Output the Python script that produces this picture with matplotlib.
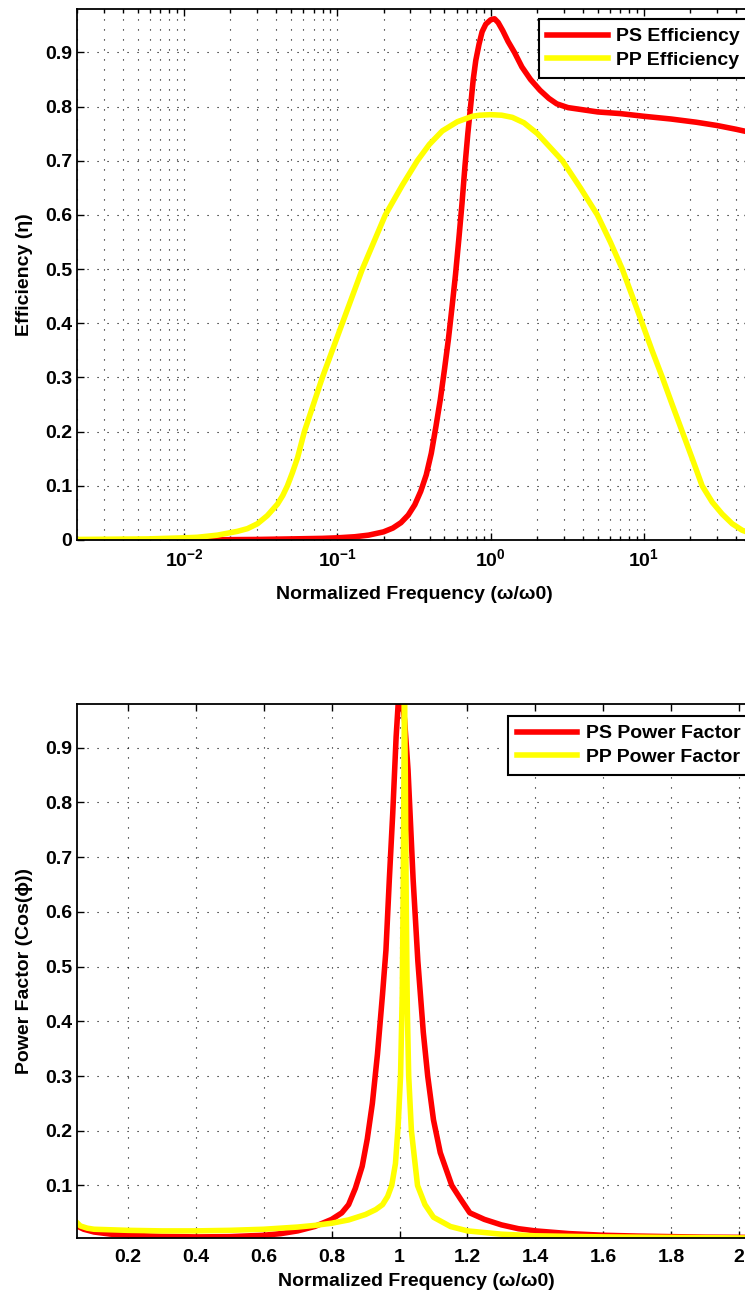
import numpy as np
import matplotlib.pyplot as plt

plt.rcParams['font.family'] = ['Liberation Sans', 'DejaVu Sans']
plt.rcParams['font.weight'] = 'bold'
plt.rcParams['mathtext.fontset'] = 'custom'
plt.rcParams['mathtext.rm'] = 'Liberation Sans:bold'
plt.rcParams['mathtext.bf'] = 'Liberation Sans:bold'
plt.rcParams['axes.unicode_minus'] = False

# efficiency vs normalized frequency (log axis)
eff_freq_ps = [0.002, 0.01, 0.03, 0.05, 0.08, 0.1, 0.13, 0.16, 0.2, 0.23, 0.26, 0.29,
               0.32, 0.35, 0.38, 0.41, 0.44, 0.47, 0.5, 0.53, 0.56, 0.59, 0.62, 0.65,
               0.68, 0.71, 0.74, 0.77, 0.8, 0.84, 0.88, 0.93, 1.0, 1.06, 1.12, 1.2,
               1.3, 1.43, 1.6, 1.82, 2.1, 2.4, 2.7, 3.2, 4.0, 5.0, 7.0, 10.0, 15.0,
               22.0, 30.0, 40.0, 50.0]
eff_ps = [0.0, 0.0, 0.001, 0.002, 0.003, 0.004, 0.006, 0.009, 0.015, 0.022, 0.032, 0.046,
          0.065, 0.09, 0.12, 0.16, 0.21, 0.26, 0.315, 0.37, 0.43, 0.49, 0.555, 0.62,
          0.69, 0.75, 0.80, 0.85, 0.885, 0.915, 0.938, 0.952, 0.96, 0.962, 0.955, 0.94,
          0.92, 0.90, 0.873, 0.85, 0.83, 0.815, 0.805, 0.798, 0.794, 0.79, 0.787, 0.782, 0.777,
          0.771, 0.765, 0.758, 0.752]

eff_freq_pp = [0.002, 0.00577, 0.01, 0.0122, 0.0165, 0.0223, 0.0259, 0.0301, 0.0349,
               0.0406, 0.044, 0.0472, 0.051, 0.055, 0.0609, 0.0798, 0.1077, 0.1455,
               0.2056, 0.2654, 0.3326, 0.398, 0.484, 0.607, 0.76, 0.85, 1.0, 1.18, 1.386,
               1.65, 2.02, 2.94, 3.85, 4.97, 6.04, 7.23, 8.40, 9.75, 11.3, 13.2, 15.3,
               17.8, 20.7, 24.0, 27.9, 32.4, 37.7, 43.8, 50.0]
eff_pp = [0.001, 0.002, 0.004, 0.005, 0.009, 0.016, 0.021, 0.03, 0.045,
          0.066, 0.082, 0.1, 0.125, 0.152, 0.2, 0.3, 0.4, 0.5,
          0.6, 0.655, 0.7, 0.73, 0.755, 0.772, 0.782, 0.784, 0.785, 0.784, 0.78,
          0.77, 0.75, 0.7, 0.65, 0.6, 0.55, 0.5, 0.45, 0.4, 0.35, 0.3, 0.25,
          0.2, 0.15, 0.1, 0.07, 0.048, 0.03, 0.018, 0.012]

# power factor vs normalized frequency (linear axis)
pf_freq_ps = [0.05, 0.07, 0.1, 0.15, 0.2, 0.3, 0.4, 0.5, 0.6, 0.65, 0.7, 0.75, 0.8,
              0.83, 0.85, 0.87, 0.89, 0.905, 0.92, 0.935, 0.95, 0.96, 0.97, 0.98, 0.99,
              0.998, 1.006, 1.015, 1.025, 1.04, 1.054, 1.07, 1.083, 1.1, 1.12, 1.154,
              1.18, 1.207, 1.25, 1.3, 1.35, 1.4, 1.5, 1.6, 1.7, 1.8, 1.9, 2.05]
pf_ps = [0.026, 0.02, 0.015, 0.011, 0.009, 0.007, 0.006, 0.0065, 0.009, 0.012, 0.017,
         0.025, 0.038, 0.05, 0.065, 0.095, 0.135, 0.185, 0.25, 0.34, 0.45, 0.53, 0.66,
         0.78, 0.92, 1.0, 1.0, 0.95, 0.86, 0.66, 0.51, 0.38, 0.3, 0.22, 0.16, 0.1,
         0.075, 0.05, 0.038, 0.028, 0.021, 0.017, 0.012, 0.009, 0.0075, 0.0065, 0.0055, 0.005]

pf_freq_pp = [0.05, 0.06, 0.08, 0.1, 0.2, 0.3, 0.4, 0.5, 0.6, 0.7, 0.75, 0.8, 0.85,
              0.9, 0.93, 0.95, 0.965, 0.977, 0.988, 0.996, 1.003, 1.008, 1.011, 1.013,
              1.0145, 1.017, 1.02, 1.023, 1.027, 1.035, 1.053, 1.075, 1.1, 1.15, 1.2,
              1.3, 1.4, 1.6, 1.8, 2.05]
pf_pp = [0.032, 0.026, 0.022, 0.02, 0.018, 0.017, 0.017, 0.018, 0.02, 0.024, 0.027,
         0.031, 0.037, 0.047, 0.056, 0.065, 0.08, 0.1, 0.14, 0.21, 0.3, 0.45, 0.65, 0.85,
         1.0, 0.85, 0.6, 0.42, 0.3, 0.2, 0.1, 0.065, 0.042, 0.025, 0.017,
         0.011, 0.008, 0.006, 0.005, 0.004]

eff_xticks = [0.01, 0.1, 1, 10]
eff_xticklabels = [r'$10^{-2}$', r'$10^{-1}$', r'$10^{0}$', r'$10^{1}$']
eff_yticks = [0, 0.1, 0.2, 0.3, 0.4, 0.5, 0.6, 0.7, 0.8, 0.9]
eff_yticklabels = ['0', '0.1', '0.2', '0.3', '0.4', '0.5', '0.6', '0.7', '0.8', '0.9']
pf_xticks = [0.2, 0.4, 0.6, 0.8, 1.0, 1.2, 1.4, 1.6, 1.8, 2.0]
pf_xticklabels = ['0.2', '0.4', '0.6', '0.8', '1', '1.2', '1.4', '1.6', '1.8', '2']
pf_yticks = [0.1, 0.2, 0.3, 0.4, 0.5, 0.6, 0.7, 0.8, 0.9]
pf_yticklabels = ['0.1', '0.2', '0.3', '0.4', '0.5', '0.6', '0.7', '0.8', '0.9']

RED = '#ff0000'
YELLOW = '#ffff00'
FS = 14
DOTS = (0, (1, 8))


def style_axes(ax):
    ax.tick_params(which='both', direction='in', top=True, right=True, labelsize=FS, width=1)
    ax.tick_params(which='major', length=5)
    ax.tick_params(which='minor', length=3)
    for s in ax.spines.values():
        s.set_linewidth(1.3)
    ax.grid(True, which='major', linestyle=DOTS, color='k', linewidth=0.8)


def add_legend(ax, fig, top_px):
    leg = ax.legend(loc='upper right', bbox_to_anchor=(749 / W, 1 - top_px / H),
                    bbox_transform=fig.transFigure, fontsize=FS, handlelength=3.1,
                    fancybox=False, framealpha=1, edgecolor='k', borderaxespad=0,
                    borderpad=0.45, labelspacing=0.3, handletextpad=0.45)
    leg.get_frame().set_linewidth(1.5)


fig = plt.figure(figsize=(7.45, 12.94), dpi=100)

W, H = 745.0, 1294.0
ax1 = fig.add_axes([77 / W, (H - 540) / H, 674 / W, 531 / H])
ax1.semilogx(eff_freq_ps, eff_ps, color=RED, lw=4, label='PS Efficiency')
ax1.semilogx(eff_freq_pp, eff_pp, color=YELLOW, lw=4, label='PP Efficiency')
ax1.set_xlim(0.002, 50)
ax1.set_ylim(0, 0.98)
ax1.set_xticks(eff_xticks)
ax1.set_xticklabels(eff_xticklabels)
ax1.set_yticks(eff_yticks)
ax1.set_yticklabels(eff_yticklabels)
style_axes(ax1)
ax1.grid(True, which='minor', axis='x', linestyle=DOTS, color='k', linewidth=0.8)
ax1.tick_params(axis='x', pad=6)
ax1.set_xlabel('Normalized Frequency (\u03c9/\u03c90)', fontsize=FS, fontweight='bold', labelpad=11)
ax1.set_ylabel('Efficiency (\u03b7)', fontsize=FS, fontweight='bold', labelpad=9)
add_legend(ax1, fig, 19)

ax2 = fig.add_axes([77 / W, (H - 1238) / H, 679 / W, 534 / H])
ax2.plot(pf_freq_ps, pf_ps, color=RED, lw=4, label='PS Power Factor')
ax2.plot(pf_freq_pp, pf_pp, color=YELLOW, lw=4, label='PP Power Factor')
ax2.set_xlim(0.05, 2.05)
ax2.set_ylim(0.004, 0.98)
ax2.set_xticks(pf_xticks)
ax2.set_xticklabels(pf_xticklabels)
ax2.set_yticks(pf_yticks)
ax2.set_yticklabels(pf_yticklabels)
style_axes(ax2)
ax2.tick_params(axis='x', pad=8)
ax2.set_xlabel('Normalized Frequency (\u03c9/\u03c90)', fontsize=FS, fontweight='bold', labelpad=5)
ax2.set_ylabel('Power Factor (Cos(\u03d5))', fontsize=FS, fontweight='bold', labelpad=9)
add_legend(ax2, fig, 716)

fig.savefig('out.png', dpi=100)
